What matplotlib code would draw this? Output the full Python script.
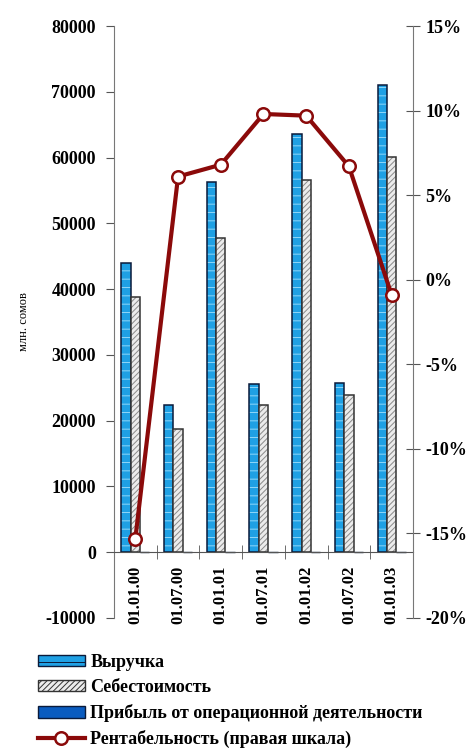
import numpy as np
import matplotlib.pyplot as plt
from matplotlib.ticker import FuncFormatter

plt.rcParams['font.family'] = ['Liberation Serif', 'DejaVu Serif']
plt.rcParams['font.weight'] = 'bold'
plt.rcParams['hatch.linewidth'] = 0.7

dates = ['01.01.00', '01.07.00', '01.01.01', '01.07.01', '01.01.02', '01.07.02', '01.01.03']
revenue = [44000, 22400, 56300, 25500, 63600, 25800, 71000]
cost = [38800, 18700, 47700, 22400, 56600, 23900, 60100]
profit = [0, 0, 0, 0, 0, 0, 0]
margin = [-15.3, 6.1, 6.8, 9.8, 9.7, 6.7, -0.9]

x = np.arange(len(dates))
w = 0.22

fig = plt.figure(figsize=(4.74, 7.48), dpi=100)
ax = fig.add_axes([0.2405, 0.1738, 0.6308, 0.7914])

# fill + light hatch first, then dark outline on top
ax.bar(x - w, revenue, w, color='#1fa0e4', edgecolor='#8fd6f8', hatch='--', linewidth=0)
b1 = ax.bar(x - w, revenue, w, facecolor='none', edgecolor='#0a1a3a', linewidth=1.1)
ax.bar(x, cost, w, color='#ececec', edgecolor='#8a8a8a', hatch='//////', linewidth=0)
b2 = ax.bar(x, cost, w, facecolor='none', edgecolor='#333333', linewidth=1.1)
b3 = ax.bar(x + w, profit, w, color='#0a5cc0', edgecolor='#0a1a3a', linewidth=1.0)

ax.set_xlim(-0.5, len(dates) - 0.5)
ax.set_ylim(-10000, 80000)
ax.set_yticks(np.arange(-10000, 80001, 10000))
ax.yaxis.set_major_formatter(FuncFormatter(lambda v, p: f'{v:.0f}'))
ax.tick_params(axis='y', direction='out', length=6, color='#555555', labelsize=13, pad=7)
ax.spines['top'].set_visible(False)
ax.spines['bottom'].set_position(('data', 0))
ax.spines['bottom'].set_color('#555555')
ax.spines['left'].set_color('#777777')
ax.spines['right'].set_visible(False)

ax.set_xticks(x)
ax.set_xticklabels(dates, rotation=90, fontsize=12)
ax.set_xticks(np.arange(0.5, len(dates) - 1, 1), minor=True)
ax.tick_params(axis='x', which='major', length=0, pad=10)
ax.tick_params(axis='x', which='minor', direction='inout', length=10, color='#555555')
ax.set_ylabel('млн. сомов', fontsize=9, labelpad=11)

ax2 = ax.twinx()
line, = ax2.plot(x, margin, color='#8b0a0a', linewidth=3, marker='o', markersize=9,
                 markerfacecolor='white', markeredgecolor='#8b0a0a', markeredgewidth=1.8)
ax2.set_ylim(-20, 15)
ax2.set_yticks(np.arange(-20, 16, 5))
ax2.yaxis.set_major_formatter(FuncFormatter(lambda v, p: f'{v:.0f}%'))
ax2.tick_params(axis='y', direction='inout', length=10, color='#555555', labelsize=13, pad=4)
for s in ['top', 'left', 'bottom']:
    ax2.spines[s].set_visible(False)
ax2.spines['right'].set_color('#777777')

h1 = plt.Rectangle((0, 0), 1, 1, facecolor='#1fa0e4', edgecolor='#0a1a3a', hatch='--')
h2 = plt.Rectangle((0, 0), 1, 1, facecolor='#ececec', edgecolor='#333333', hatch='//////')
fig.legend(handles=[h1, h2, b3, line],
           labels=['Выручка', 'Себестоимость', 'Прибыль от операционной деятельности',
                   'Рентабельность (правая шкала)'],
           loc='upper left', bbox_to_anchor=(38 / 474, 1 - 654 / 748), frameon=False,
           fontsize=13, handlelength=2.6, handleheight=0.6, handletextpad=0.3,
           labelspacing=0.45, borderaxespad=0, borderpad=0)

fig.savefig('out.png', dpi=100)
